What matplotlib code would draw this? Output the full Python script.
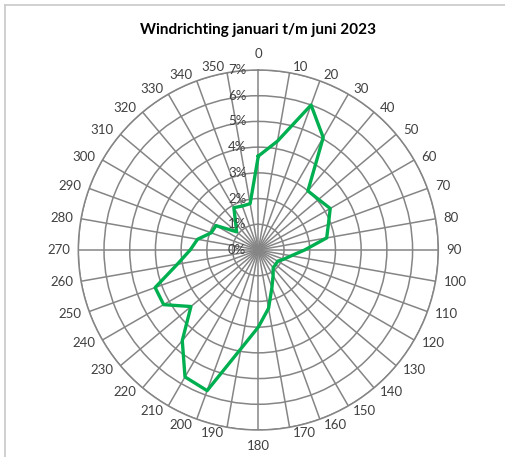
import numpy as np
import matplotlib.pyplot as plt
from matplotlib.transforms import ScaledTranslation
from matplotlib.lines import Line2D

plt.rcParams['font.family'] = ['Lato', 'DejaVu Sans']

# windrichting in graden en aandeel van de tijd (%)
richting = list(range(0, 360, 10))
aandeel = [3.65, 4.3, 6.0, 5.05, 3.0, 3.06, 3.23, 2.9, 2.7, 1.8,
           1.3, 1.05, 0.87, 0.88, 0.9, 1.15, 1.55, 2.3, 3.0, 3.9,
           5.82, 5.7, 4.6, 3.42, 4.25, 4.27, 3.2, 2.65, 2.4, 1.95,
           1.9, 1.1, 1.37, 1.9, 1.82, 1.83]
ring_labels = ['0%', '1%', '2%', '3%', '4%', '5%', '6%', '7%']

W, H = 505, 457
fig = plt.figure(figsize=(W / 100, H / 100), dpi=100)

# rand van het grafiekgebied (links en boven)
fig.add_artist(Line2D([5 / W, 5 / W], [0, 1 - 5 / H], color='#c8c8c8', lw=1.2))
fig.add_artist(Line2D([5 / W, 1], [1 - 5 / H, 1 - 5 / H], color='#c8c8c8', lw=1.2))

cx, cy, R = 258.3, 250, 180
ax = fig.add_axes([(cx - R) / W, (H - cy - R) / H, 2 * R / W, 2 * R / H],
                  projection='polar')
ax.set_theta_zero_location('N')
ax.set_theta_direction(-1)

theta = np.deg2rad(richting + [richting[0]])
r = aandeel + [aandeel[0]]
ax.plot(theta, r, color='#00b050', lw=2.4, zorder=5)

ax.set_ylim(0, 7)
ax.set_yticks(range(8))
ax.set_yticklabels([])
ax.set_thetagrids(richting, [''] * len(richting))
ax.grid(True, color='#858585', lw=1.1)
ax.spines['polar'].set_color('#858585')
ax.spines['polar'].set_linewidth(1.1)


def px(dx, dy):
    return ax.transData + ScaledTranslation(dx / 100, dy / 100, fig.dpi_scale_trans)


# richtingen rond de buitenste ring, uitgelijnd zoals in Excel
for d in richting:
    t = np.deg2rad(d)
    s, c = np.sin(t), np.cos(t)
    if abs(s) < 1e-6:
        ax.text(t, 7, str(d), transform=px(0, 16.5 * np.sign(c)), ha='center',
                va='center', fontsize=9.5, color='#404040')
    else:
        ha = 'left' if s > 0 else 'right'
        ax.text(t, 7, str(d), transform=px(2 * np.sign(s) + 6 * s, 6 * c),
                ha=ha, va='center', fontsize=9.5, color='#404040')

# percentages langs de verticale as
for i, lab in enumerate(ring_labels):
    ax.text(0, i, lab, transform=px(-12, 0), ha='right', va='center',
            fontsize=9.5, color='#404040', zorder=6)

fig.text(cx / W, 1 - 30 / H, 'Windrichting januari t/m juni 2023',
         ha='center', va='center', fontsize=11, fontweight='bold', color='#000000')

fig.savefig('out.png', dpi=100, facecolor='white')
